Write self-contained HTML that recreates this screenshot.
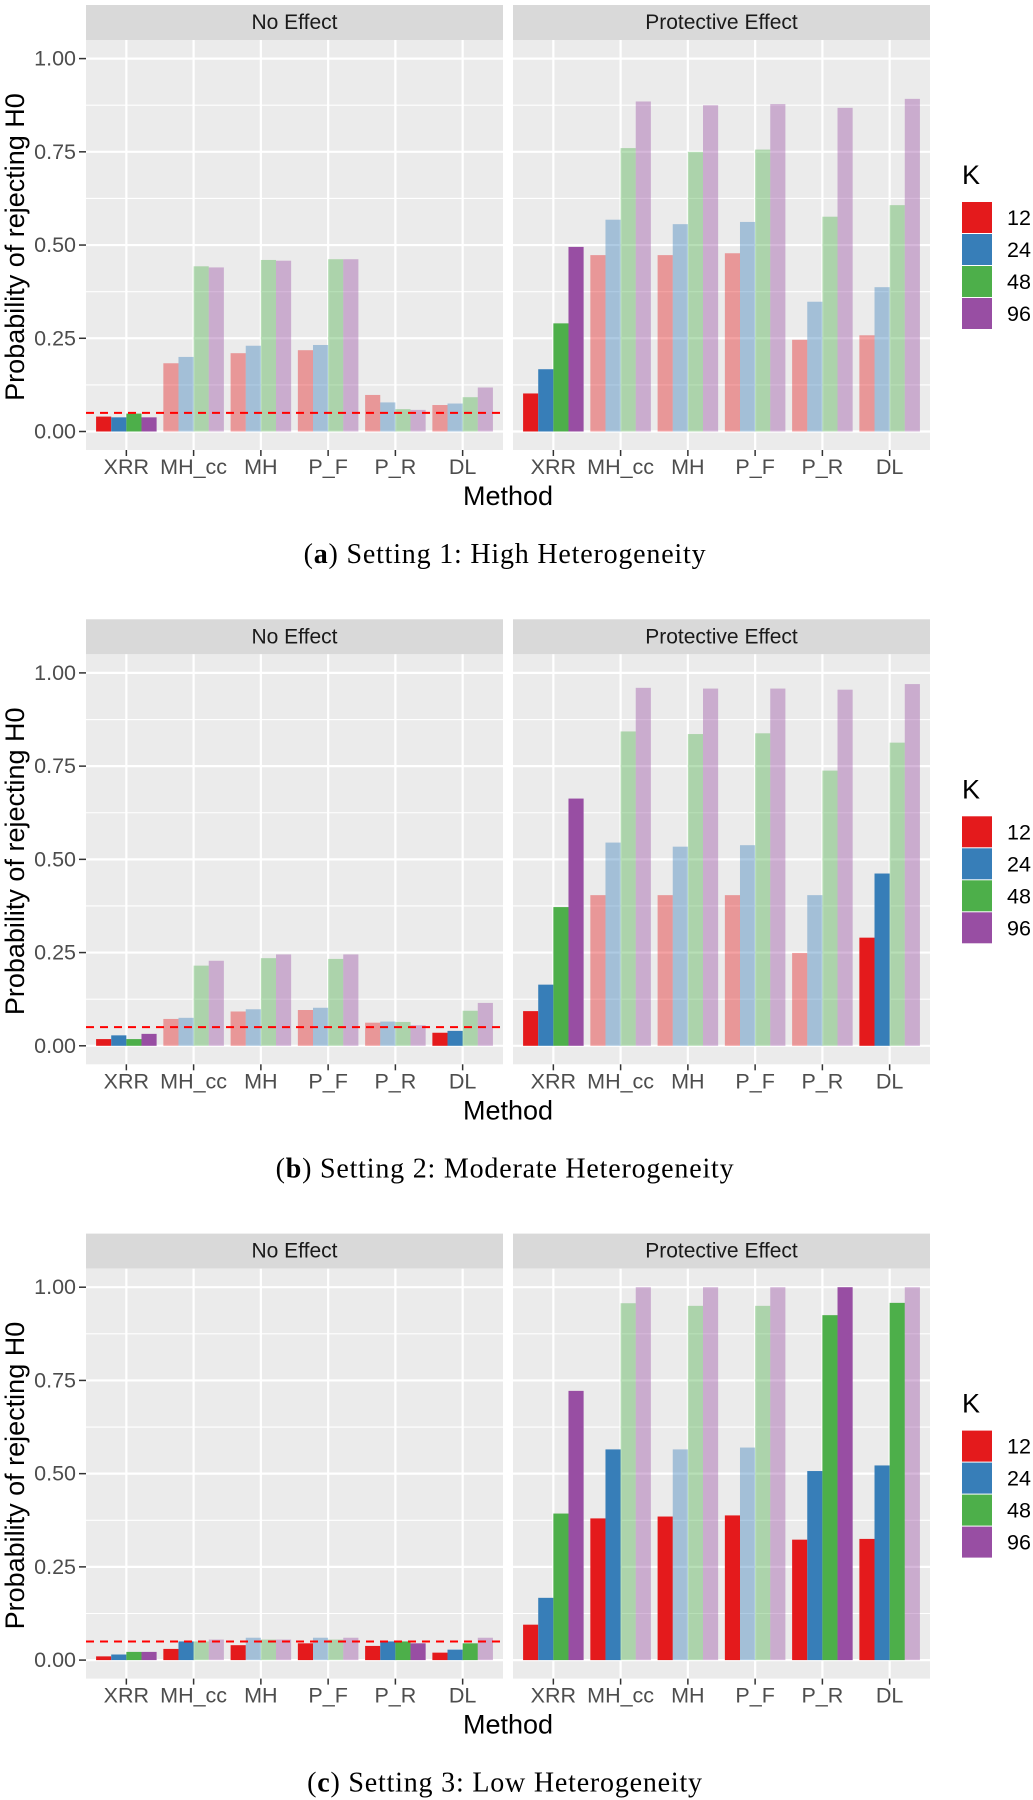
<!DOCTYPE html>
<html><head><meta charset="utf-8">
<style>
html,body{margin:0;padding:0;background:#fff;}
svg{display:block;}
</style></head>
<body>
<svg id="chart" width="1033" height="1800" viewBox="0 0 1033 1800" xmlns="http://www.w3.org/2000/svg" font-family="Liberation Sans, Arial, sans-serif"></svg>
<script>
const methods = ["XRR","MH_cc","MH","P_F","P_R","DL"];
const kLevels = ["12","24","48","96"];
const kColors = ["#E41A1C","#377EB8","#4DAF4A","#984EA3"];
const facets = ["No Effect","Protective Effect"];
const yTicks = [0,0.25,0.5,0.75,1.0];
const yTickLabels = ["0.00","0.25","0.50","0.75","1.00"];
const captions = [["a","Setting 1: High Heterogeneity"],["b","Setting 2: Moderate Heterogeneity"],["c","Setting 3: Low Heterogeneity"]];
const nullLevel = 0.05;

const s1NoEffect = [[0.04,0.038,0.048,0.038],[0.183,0.20,0.443,0.44],[0.21,0.23,0.46,0.458],[0.218,0.232,0.462,0.462],[0.098,0.078,0.06,0.058],[0.071,0.075,0.092,0.118]];
const s1Protective = [[0.102,0.167,0.29,0.495],[0.473,0.568,0.76,0.885],[0.473,0.556,0.75,0.875],[0.478,0.562,0.756,0.878],[0.246,0.348,0.576,0.868],[0.258,0.387,0.607,0.892]];
const s2NoEffect = [[0.018,0.028,0.018,0.032],[0.072,0.075,0.215,0.228],[0.092,0.098,0.235,0.245],[0.096,0.102,0.233,0.245],[0.062,0.065,0.064,0.055],[0.035,0.04,0.094,0.115]];
const s2Protective = [[0.093,0.164,0.372,0.663],[0.404,0.545,0.843,0.96],[0.404,0.534,0.836,0.958],[0.404,0.538,0.838,0.958],[0.249,0.404,0.738,0.955],[0.29,0.462,0.813,0.97]];
const s3NoEffect = [[0.01,0.015,0.022,0.022],[0.03,0.05,0.05,0.055],[0.04,0.06,0.055,0.055],[0.045,0.06,0.055,0.06],[0.038,0.05,0.05,0.045],[0.02,0.028,0.045,0.06]];
const s3Protective = [[0.095,0.167,0.393,0.722],[0.38,0.565,0.957,1.0],[0.385,0.565,0.95,1.0],[0.388,0.57,0.95,1.0],[0.323,0.507,0.925,1.0],[0.325,0.522,0.958,1.0]];
const s1NoHi = [[1,1,1,1],[0,0,0,0],[0,0,0,0],[0,0,0,0],[0,0,0,0],[0,0,0,0]];
const s1PrHi = [[1,1,1,1],[0,0,0,0],[0,0,0,0],[0,0,0,0],[0,0,0,0],[0,0,0,0]];
const s2NoHi = [[1,1,1,1],[0,0,0,0],[0,0,0,0],[0,0,0,0],[0,0,0,0],[1,1,0,0]];
const s2PrHi = [[1,1,1,1],[0,0,0,0],[0,0,0,0],[0,0,0,0],[0,0,0,0],[1,1,0,0]];
const s3NoHi = [[1,1,1,1],[1,1,0,0],[1,0,0,0],[1,0,0,0],[1,1,1,1],[1,1,1,0]];
const s3PrHi = [[1,1,1,1],[1,1,0,0],[1,0,0,0],[1,0,0,0],[1,1,1,1],[1,1,1,0]];

const values = [[s1NoEffect,s1Protective],[s2NoEffect,s2Protective],[s3NoEffect,s3Protective]];
const highlights = [[s1NoHi,s1PrHi],[s2NoHi,s2PrHi],[s3NoHi,s3PrHi]];

const NS = "http://www.w3.org/2000/svg";
const svg = document.getElementById("chart");
function mk(tag, attrs, parent, text){
  const e = document.createElementNS(NS, tag);
  for (const k in attrs) e.setAttribute(k, attrs[k]);
  if (text !== undefined) e.textContent = text;
  (parent||svg).appendChild(e);
  return e;
}
const panelX = [[86,503],[513,930]];
const STEP = 614.3;
const stripTop = 5, stripBot = 40, plotBot = 450;
const y0 = 431.5, y1 = 58.6;

for (let s = 0; s < 3; s++) {
  const off = s * STEP;
  const g = mk("g", {}, svg);
  
  
  const yScale = v => off + y0 - v * (y0 - y1);

  for (let f = 0; f < 2; f++) {
    const [xl, xr] = panelX[f];
    const unit = (xr - xl) / 6.2;
    const xScale = i => xl + unit * (0.6 + i);
    const pg = mk("g", {}, g);
    
    
    const strip = mk("rect", {x:xl, y:off+stripTop, width:xr-xl, height:stripBot-stripTop, fill:"#D9D9D9"}, pg);
    
    
    const st = mk("text", {x:(xl+xr)/2, y:off+(stripTop+stripBot)/2, "font-size":21, fill:"#1A1A1A", "text-anchor":"middle", "dominant-baseline":"central"}, pg, facets[f]);
    
    
    const bg = mk("rect", {x:xl, y:off+stripBot, width:xr-xl, height:plotBot-stripBot, fill:"#EBEBEB"}, pg);
    
    
    for (let t = 0; t < yTicks.length - 1; t++) {
      const m = (yTicks[t] + yTicks[t+1]) / 2;
      mk("line", {x1:xl, x2:xr, y1:yScale(m), y2:yScale(m), stroke:"#fff", "stroke-width":1.1}, pg);
    }
    yTicks.forEach(v => {
      mk("line", {x1:xl, x2:xr, y1:yScale(v), y2:yScale(v), stroke:"#fff", "stroke-width":2.2}, pg);
    });
    methods.forEach((m, i) => {
      mk("line", {x1:xScale(i), x2:xScale(i), y1:off+stripBot, y2:off+plotBot, stroke:"#fff", "stroke-width":2.2}, pg);
    });
    const vals = values[s][f], hi = highlights[s][f];
    const bw = unit * 0.9 / 4;
    methods.forEach((m, i) => {
      kLevels.forEach((k, j) => {
        const v = vals[i][j];
        const x = xScale(i) - unit*0.45 + j*bw;
        const r = mk("rect", {x:x, y:yScale(v), width:bw, height:yScale(0)-yScale(v), fill:kColors[j], "fill-opacity": hi[i][j] ? 1 : 0.4}, pg);
        
        
      });
    });
    if (f === 0) {
      const hl = mk("line", {x1:xl, x2:xr, y1:yScale(nullLevel), y2:yScale(nullLevel), stroke:"#FF0000", "stroke-width":2, "stroke-dasharray":"8,6"}, pg);
      
      
    }
    methods.forEach((m, i) => {
      mk("line", {x1:xScale(i), x2:xScale(i), y1:off+plotBot, y2:off+plotBot+6, stroke:"#333", "stroke-width":1.5}, pg);
      const tl = mk("text", {x:xScale(i), y:off+467, "font-size":21.5, fill:"#4D4D4D", "text-anchor":"middle", "dominant-baseline":"central"}, pg, m);
      
      
    });
  }
  yTicks.forEach((v, t) => {
    mk("line", {x1:79, x2:86, y1:yScale(v), y2:yScale(v), stroke:"#333", "stroke-width":1.5}, g);
    const tl = mk("text", {x:76, y:yScale(v), "font-size":21.5, fill:"#4D4D4D", "text-anchor":"end", "dominant-baseline":"central"}, g, yTickLabels[t]);
    
    
  });
  const yt = mk("text", {x:0, y:0, "font-size":27, fill:"#000", "text-anchor":"middle", "dominant-baseline":"central", transform:`translate(15,${off+247}) rotate(-90)`}, g, "Probability of rejecting H0");
  
  
  const xt = mk("text", {x:508, y:off+496, "font-size":27, fill:"#000", "text-anchor":"middle", "dominant-baseline":"central"}, g, "Method");
  
  
  const lg = mk("g", {}, g);
  
  
  const lt = mk("text", {x:962, y:off+175, "font-size":27, fill:"#000", "dominant-baseline":"central"}, lg, "K");
  
  
  kLevels.forEach((k, j) => {
    const yy = off + 202 + j*32;
    const bx = mk("rect", {x:962, y:yy, width:30, height:31, fill:kColors[j]}, lg);
    
    
    const tx = mk("text", {x:1007, y:yy+16, "font-size":21.5, fill:"#000", "dominant-baseline":"central"}, lg, k);
    
    
  });
  const cap = mk("text", {x:505, y:off+554, "font-size":28, "letter-spacing":0.8, fill:"#000", "text-anchor":"middle", "dominant-baseline":"central", "font-family":"Liberation Serif, serif"}, g);
  
  
  mk("tspan", {}, cap, "(");
  mk("tspan", {"font-weight":"bold"}, cap, captions[s][0]);
  mk("tspan", {}, cap, ") " + captions[s][1]);
}
</script>
</body></html>
